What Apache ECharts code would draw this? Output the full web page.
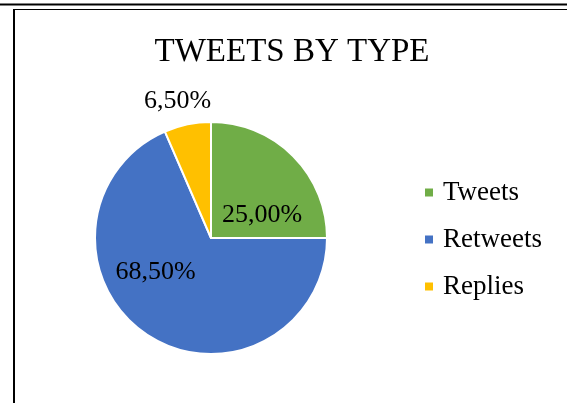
<!DOCTYPE html>
<html>
<head>
<meta charset="utf-8">
<script src="https://cdn.jsdelivr.net/npm/echarts@6/dist/echarts.min.js"></script>
<style>
html,body{margin:0;padding:0;background:#fff;}
#chart{width:567px;height:403px;}
</style>
</head>
<body>
<div id="chart"></div>
<script>
var categories = ['Tweets', 'Retweets', 'Replies'];
var values = [25.0, 68.5, 6.5];
var colors = ['#70AD47', '#4472C4', '#FFC000'];
var titleText = 'TWEETS BY TYPE';

// label nudges relative to the default inside position (dx, dy)
var labelShift = [[8, 20], [-22, -17], [-21, -77]];

var serif = '"Times New Roman", "Liberation Serif", serif';
var chart = echarts.init(document.getElementById('chart'), null, {renderer: 'canvas'});

var data = categories.map(function (c, i) {
  return {name: c, value: values[i], itemStyle: {color: colors[i]}};
});

chart.setOption({
  animation: false,
  backgroundColor: '#fff',
  title: {
    text: titleText,
    left: 287,
    textAlign: 'center',
    top: 31,
    textStyle: {fontFamily: serif, fontSize: 33, fontWeight: 'normal', color: '#000'}
  },
  legend: {
    orient: 'vertical',
    left: 423,
    top: 179,
    padding: 0,
    icon: 'rect',
    itemWidth: 10,
    itemHeight: 10,
    itemGap: 20,
    data: categories,
    textStyle: {fontFamily: serif, fontSize: 27, color: '#000', padding: [0, 0, 0, 4]}
  },
  graphic: [
    {type: 'line', shape: {x1: 0, y1: 4.5, x2: 567, y2: 4.5}, style: {stroke: '#000', lineWidth: 2}},
    {type: 'line', shape: {x1: 13, y1: 9.5, x2: 567, y2: 9.5}, style: {stroke: '#000', lineWidth: 1.2}},
    {type: 'line', shape: {x1: 14, y1: 9, x2: 14, y2: 403}, style: {stroke: '#000', lineWidth: 2}}
  ],
  series: [{
    type: 'pie',
    center: [211, 238],
    radius: 116,
    startAngle: 90,
    clockwise: true,
    data: data,
    itemStyle: {borderColor: '#fff', borderWidth: 2},
    label: {
      show: true,
      position: 'inside',
      formatter: function (p) { return p.value.toFixed(2).replace('.', ',') + '%'; },
      fontFamily: serif,
      fontSize: 26,
      color: '#000'
    },
    labelLine: {show: false},
    labelLayout: function (p) {
      var s = labelShift[p.dataIndex];
      return {dx: s[0], dy: s[1]};
    },
    emphasis: {disabled: true}
  }]
});
</script>
</body>
</html>
